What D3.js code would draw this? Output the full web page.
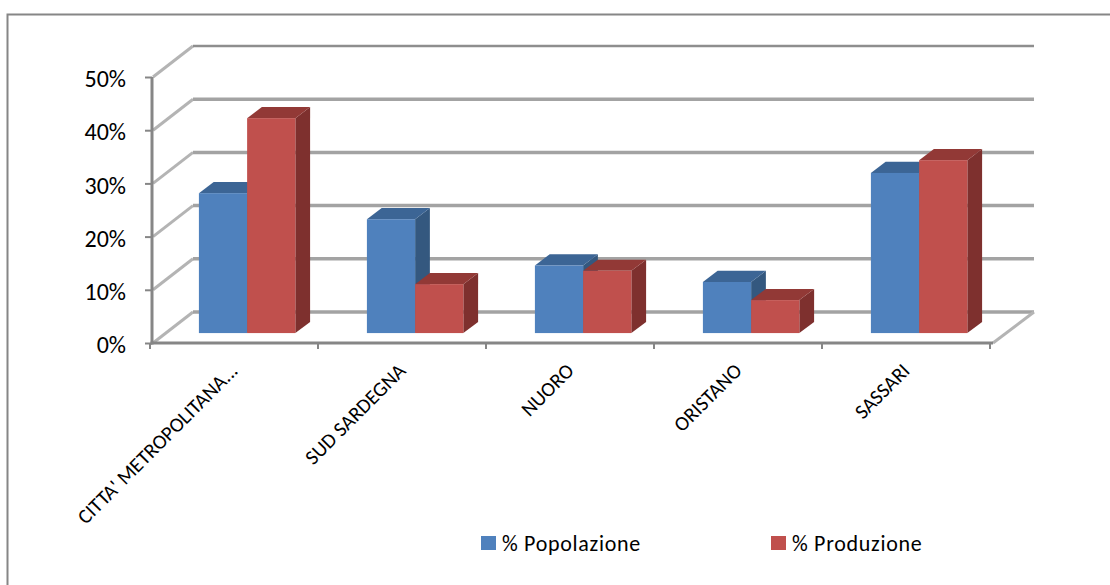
<!DOCTYPE html>
<html>
<head>
<meta charset="utf-8">
<script src="https://cdn.jsdelivr.net/npm/d3@7"></script>
<style>
  html, body { margin: 0; padding: 0; background: #fff; }
  svg { display: block; }
  text { font-family: Carlito, Lato, "Open Sans", sans-serif; fill: #000; }
</style>
</head>
<body>
<svg id="chart" width="1110" height="585"></svg>
<script>
// Share of population vs share of production by province
const categories = ["CITTA' METROPOLITANA...", "SUD SARDEGNA", "NUORO", "ORISTANO", "SASSARI"];
const popolazione = [0.263, 0.214, 0.127, 0.096, 0.301];
const produzione  = [0.404, 0.092, 0.117, 0.062, 0.325];
const seriesNames = ["% Popolazione", "% Produzione"];
const yTicks = [0, 0.1, 0.2, 0.3, 0.4, 0.5];

const svg = d3.select("#chart");

// outer chart frame
svg.append("rect")
  .attr("x", 7.5).attr("y", 14.5)
  .attr("width", 1300).attr("height", 800)
  .attr("fill", "none").attr("stroke", "#868686").attr("stroke-width", 2);

// plot geometry: front plane plus oblique depth offset
const x = d3.scaleBand().domain(categories).range([150, 990]).paddingInner(0).paddingOuter(0);
const y = d3.scaleLinear().domain([0, 0.5]).range([343, 77]);
const depthX = 41, depthY = -31;        // full depth of the floor / walls
const z0 = 0.32, z1 = 0.68;             // bars sit in the middle of the depth
const groupFrac = 0.574;                 // part of each band used by the two bars

const plotRight = x.range()[1] + 3;
const series = [
  { name: seriesNames[0], values: popolazione, front: "#4F81BD", top: "#3C6595", side: "#34587F" },
  { name: seriesNames[1], values: produzione,  front: "#C0504D", top: "#923936", side: "#7E302E" }
];

// back wall gridlines and left wall oblique lines
const grid = svg.append("g");
yTicks.forEach((t, i) => {
  const yf = y(t), yb = y(t) + depthY;
  grid.append("line")
    .attr("x1", 152 + 1).attr("y1", yf)
    .attr("x2", 152 + depthX).attr("y2", yb)
    .attr("stroke", "#B4B4B4").attr("stroke-width", 3);
  grid.append("line")
    .attr("x1", 152 + depthX).attr("y1", yb)
    .attr("x2", plotRight + depthX).attr("y2", yb)
    .attr("stroke", i === yTicks.length - 1 ? "#8E8E8E" : "#A3A3A3")
    .attr("stroke-width", i === yTicks.length - 1 ? 2.5 : 3.5);
});
// floor right edge
grid.append("line")
  .attr("x1", plotRight).attr("y1", y(0))
  .attr("x2", plotRight + depthX).attr("y2", y(0) + depthY)
  .attr("stroke", "#B4B4B4").attr("stroke-width", 3);

// bars
const bw = x.bandwidth() * groupFrac / 2;
const bdx = depthX * (z1 - z0), bdy = depthY * (z1 - z0);
const bars = svg.append("g");
categories.forEach((c, ci) => {
  const cx = x(c) + x.bandwidth() / 2;
  series.forEach((s, si) => {
    const v = s.values[ci];
    const x0 = cx - bw + si * bw + depthX * z0;
    const x1 = x0 + bw;
    const yt = y(v) + depthY * z0;
    const yb = y(0) + depthY * z0;
    const g = bars.append("g");
    // side face
    g.append("path")
      .attr("d", `M${x1},${yt}L${x1 + bdx},${yt + bdy}L${x1 + bdx},${yb + bdy}L${x1},${yb}Z`)
      .attr("fill", s.side);
    // top face
    g.append("path")
      .attr("d", `M${x0},${yt}L${x1},${yt}L${x1 + bdx},${yt + bdy}L${x0 + bdx},${yt + bdy}Z`)
      .attr("fill", s.top);
    // front face
    g.append("rect")
      .attr("x", x0).attr("y", yt)
      .attr("width", bw).attr("height", yb - yt)
      .attr("fill", s.front);
  });
});

// value axis
const yAxis = svg.append("g")
  .attr("transform", "translate(152,0)")
  .call(d3.axisLeft(y).tickValues(yTicks).tickFormat(d3.format(".0%")).tickSize(7).tickPadding(19));
yAxis.select(".domain").attr("stroke", "#868686").attr("stroke-width", 3)
  .attr("d", `M0,${y(0.5)}V${y(0) + 1.5}`);
yAxis.selectAll(".tick line").attr("stroke", "#868686").attr("stroke-width", 2);
yAxis.selectAll(".tick text").attr("font-size", 24).attr("fill", "#000")
  .attr("dy", "0.4em")
  .style("font-family", "Carlito, Lato, 'Open Sans', sans-serif");

// category axis (ticks at band boundaries)
const xAxis = svg.append("g");
xAxis.append("line")
  .attr("x1", 150.5).attr("y1", y(0)).attr("x2", plotRight).attr("y2", y(0))
  .attr("stroke", "#868686").attr("stroke-width", 3);
const bounds = categories.map(c => x(c)).concat([x.range()[1]]);
xAxis.selectAll("line.tk").data(bounds).join("line").attr("class", "tk")
  .attr("x1", d => d).attr("x2", d => d)
  .attr("y1", y(0)).attr("y2", y(0) + 6)
  .attr("stroke", "#868686").attr("stroke-width", 2);
xAxis.selectAll("text").data(categories).join("text")
  .attr("transform", c => `translate(${x(c) + x.bandwidth() / 2 + 5},${y(0) + 29}) rotate(-45)`)
  .attr("text-anchor", "end")
  .attr("font-size", 20.5)
  .text(c => c);

// legend
const legend = svg.append("g");
const legendX = [481, 771];
series.forEach((s, i) => {
  legend.append("rect")
    .attr("x", legendX[i]).attr("y", 536)
    .attr("width", 15).attr("height", 14)
    .attr("fill", s.front);
  legend.append("text")
    .attr("x", legendX[i] + 21).attr("y", 551)
    .attr("font-size", 22)
    .attr("letter-spacing", 0.7)
    .text(s.name);
});
</script>
</body>
</html>
